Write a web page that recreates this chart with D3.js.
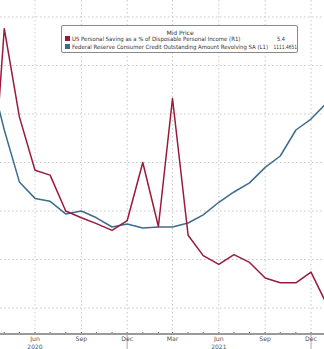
<!DOCTYPE html>
<html><head><meta charset="utf-8">
<script src="https://cdn.jsdelivr.net/npm/d3@7"></script>
<style>html,body{margin:0;padding:0;background:#fff;overflow:hidden}</style>
</head><body>
<script>
const months = ["2020-03","2020-04","2020-05","2020-06","2020-07","2020-08","2020-09","2020-10","2020-11","2020-12",
 "2021-01","2021-02","2021-03","2021-04","2021-05","2021-06","2021-07","2021-08","2021-09","2021-10","2021-11","2021-12","2022-01"];
const savingRate = [11.0,33.8,24.7,19.2,18.7,15.0,14.3,13.7,13.0,14.0,20.0,13.4,26.6,12.5,10.4,9.5,10.5,9.7,8.1,7.6,7.6,8.7,5.4];
const revolvingCredit = [1148,1083.5,1030,1013,1010,997,1000,993,983.5,986.6,982.5,983.5,983.5,987.6,996,1009,1019.6,1029,1045,1056.7,1083.5,1094.8,1111.4651];
const tickMonths = ["2020-06","2020-09","2020-12","2021-03","2021-06","2021-09","2021-12"];
const tickLabels = ["Jun","Sep","Dec","Mar","Jun","Sep","Dec"];
const yearLabels = [["2020-06","2020"],["2021-06","2021"]];
const rightGrid = [5,10,15,20,25,30,35];
const legendTitle = "Mid Price";
const legendRows = [
  {name:"US Personal Saving as a % of Disposable Personal Income  (R1)", value:"5.4", color:"#9b1a3c"},
  {name:"Federal Reserve Consumer Credit Outstanding Amount Revolving SA  (L1)", value:"1111.4651", color:"#3e6d8c"}
];

const W=324,H=349, axisY=334;
const parse = d3.timeParse("%Y-%m");
const svg = d3.select("body").append("svg").attr("width",W).attr("height",H);
const x = d3.scaleTime().domain([parse("2020-06"),parse("2021-12")]).range([35,311]);
const yR = d3.scaleLinear().domain([0,35]).range([356.5,17]);
const yL = d3.scaleLinear().domain([850,1200]).range([356.5,17]);

svg.append("defs").append("clipPath").attr("id","clip").append("rect").attr("x",0).attr("y",0).attr("width",W).attr("height",axisY);

// grid
const grid = svg.append("g");
grid.selectAll("line.h").data(rightGrid).join("line")
  .attr("x1",0).attr("x2",W).attr("y1",d=>yR(d)).attr("y2",d=>yR(d))
  .attr("stroke","#c8c8c8").attr("stroke-width",1).attr("stroke-dasharray","1.5,2.5");
grid.selectAll("line.v").data(tickMonths).join("line")
  .attr("x1",d=>x(parse(d))).attr("x2",d=>x(parse(d))).attr("y1",0).attr("y2",axisY)
  .attr("stroke","#c8c8c8").attr("stroke-width",1).attr("stroke-dasharray","1.5,2.5");

// lines
const g = svg.append("g").attr("clip-path","url(#clip)");
const dates = months.map(parse);
g.append("path").datum(revolvingCredit)
  .attr("d", d3.line().x((d,i)=>x(dates[i])).y(d=>yL(d)))
  .attr("fill","none").attr("stroke","#3e6d8c").attr("stroke-width",1.5).attr("stroke-linejoin","round");
g.append("path").datum(savingRate)
  .attr("d", d3.line().x((d,i)=>x(dates[i])).y(d=>yR(d)))
  .attr("fill","none").attr("stroke","#9b1a3c").attr("stroke-width",1.5).attr("stroke-linejoin","round");

// axis
const allMonths = d3.timeMonth.range(parse("2020-02"), parse("2022-02"));
const ax = svg.append("g").attr("transform",`translate(0,${axisY})`);
ax.selectAll("line.t").data(allMonths).join("line")
  .attr("x1",d=>x(d)).attr("x2",d=>x(d)).attr("y1",-2).attr("y2",1)
  .attr("stroke","#666").attr("stroke-width",1);
ax.append("line").attr("x1",0).attr("x2",W).attr("y1",0).attr("y2",0).attr("stroke","#9a9a9a").attr("stroke-width",2);
ax.selectAll("line.dec").data(tickMonths.filter(m=>m.endsWith("-12"))).join("line")
  .attr("x1",d=>x(parse(d))).attr("x2",d=>x(parse(d))).attr("y1",0).attr("y2",H-axisY)
  .attr("stroke","#aaa").attr("stroke-width",1);
ax.selectAll("text.m").data(tickMonths).join("text")
  .attr("x",d=>x(parse(d))).attr("y",7.3).attr("text-anchor","middle")
  .attr("font-family","DejaVu Sans, sans-serif").attr("font-size",6.2).attr("fill","#555")
  .text((d,i)=>tickLabels[i]);
ax.selectAll("text.y").data(yearLabels).join("text")
  .attr("x",d=>x(parse(d[0]))).attr("y",14.6).attr("text-anchor","middle")
  .attr("font-family","DejaVu Sans, sans-serif").attr("font-size",6).attr("fill","#555")
  .text(d=>d[1]);

// legend
const lg = svg.append("g");
lg.append("rect").attr("x",61.5).attr("y",25.5).attr("width",236).attr("height",27).attr("rx",1.5)
  .attr("fill","#fff").attr("stroke","#8a8a8a").attr("stroke-width",1);
lg.append("text").attr("x",180).attr("y",34.5).attr("text-anchor","middle")
  .attr("font-family","DejaVu Sans, sans-serif").attr("font-size",6).attr("fill","#333").text(legendTitle);
const rows = lg.selectAll("g.r").data(legendRows).join("g").attr("transform",(d,i)=>`translate(0,${41+i*8})`);
rows.append("rect").attr("x",65).attr("y",-5).attr("width",5).attr("height",5).attr("fill",d=>d.color);
function squeeze(sel, x0, widthFn){
  sel.each(function(d,i){
    const t = d3.select(this);
    const w = this.getComputedTextLength();
    const s = widthFn(i)/w;
    t.attr("x",0).attr("transform",`translate(${x0(i)},0) scale(${s},1)`);
  });
}
rows.append("text").attr("y",0).attr("font-family","DejaVu Sans, sans-serif").attr("font-size",5.8)
  .attr("fill","#333").text(d=>d.name)
  .call(squeeze, ()=>72, i=>i===0?169:196);
rows.append("text").attr("y",0).attr("font-family","DejaVu Sans, sans-serif").attr("font-size",5.8)
  .attr("fill","#333").text(d=>d.value)
  .call(squeeze, i=>i===0?277:273.5, i=>i===0?8:23.5);
</script>
</body></html>
